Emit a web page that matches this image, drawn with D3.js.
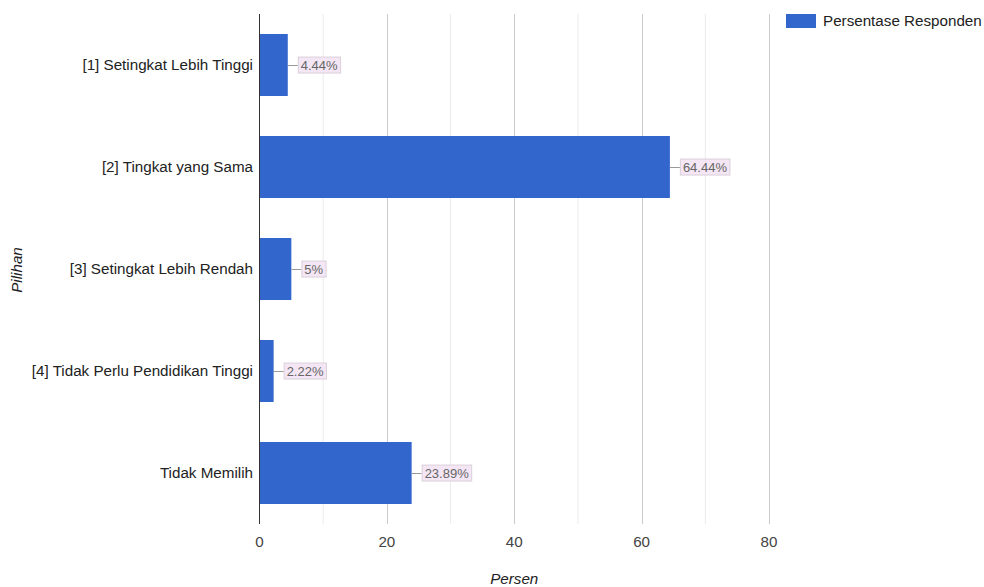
<!DOCTYPE html>
<html><head><meta charset="utf-8">
<script src="https://cdn.jsdelivr.net/npm/d3@7"></script>
<style>body{margin:0;background:#fff;} svg text{font-family:"Liberation Sans",Arial,sans-serif;}</style>
</head><body>
<svg id="c" width="984" height="587"></svg>
<script>
const categories = ["[1] Setingkat Lebih Tinggi","[2] Tingkat yang Sama","[3] Setingkat Lebih Rendah","[4] Tidak Perlu Pendidikan Tinggi","Tidak Memilih"];
const values = [4.44, 64.44, 5, 2.22, 23.89];
const labels = ["4.44%","64.44%","5%","2.22%","23.89%"];
const xTicks = [0,20,40,60,80];
const minorTicks = [10,30,50,70];
const seriesName = "Persentase Responden";

const svg = d3.select("#c");
const L = 259.5, R = 769, T = 14, B = 524;
const x = d3.scaleLinear().domain([0,80]).range([L,R]);
const y = d3.scaleBand().domain(categories).range([T,B]).paddingInner(0.392).paddingOuter(0.196);

svg.append("g").selectAll("line.minor").data(minorTicks).enter().append("line")
  .attr("x1",d=>x(d)).attr("x2",d=>x(d)).attr("y1",T).attr("y2",B)
  .attr("stroke","#ebebeb").attr("stroke-width",1);
svg.append("g").selectAll("line.major").data(xTicks.slice(1)).enter().append("line")
  .attr("x1",d=>Math.round(x(d))+0.5).attr("x2",d=>Math.round(x(d))+0.5).attr("y1",T).attr("y2",B)
  .attr("stroke","#cccccc").attr("stroke-width",1);

svg.append("g").selectAll("rect").data(values).enter().append("rect")
  .attr("x",x(0)).attr("y",(d,i)=>y(categories[i]))
  .attr("width",d=>x(d)-x(0)).attr("height",y.bandwidth())
  .attr("fill","#3366cc");

svg.append("line").attr("x1",L).attr("x2",L).attr("y1",T).attr("y2",B).attr("stroke","#333").attr("stroke-width",1);

svg.append("g").selectAll("text").data(categories).enter().append("text")
  .attr("x",253).attr("y",d=>y(d)+y.bandwidth()/2).attr("dy","0.35em")
  .attr("text-anchor","end").attr("font-size",15.2).attr("fill","#222").text(d=>d);

svg.append("g").selectAll("text").data(xTicks).enter().append("text")
  .attr("x",d=>x(d)).attr("y",547).attr("text-anchor","middle")
  .attr("font-size",15.2).attr("fill","#444").text(d=>d);

svg.append("text").attr("x",x(40)).attr("y",584).attr("text-anchor","middle")
  .attr("font-size",15.2).attr("font-style","italic").attr("fill","#222").text("Persen");
svg.append("text").attr("transform","translate(22,270) rotate(-90)").attr("text-anchor","middle")
  .attr("font-size",15.2).attr("font-style","italic").attr("fill","#222").text("Pilihan");

const ann = svg.append("g");
values.forEach((v,i)=>{
  const cy = y(categories[i]) + y.bandwidth()/2;
  const x0 = x(v);
  ann.append("line").attr("x1",x0).attr("x2",x0+10).attr("y1",cy+0.5).attr("y2",cy+0.5).attr("stroke","#999");
  const t = ann.append("text").attr("x",x0+13).attr("y",cy).attr("dy","0.35em")
    .attr("font-size",13).attr("fill","#666").text(labels[i]);
  const bb = t.node().getBBox();
  ann.insert("rect","text:last-child").attr("x",bb.x-2.5).attr("y",bb.y-0.5).attr("width",bb.width+5).attr("height",bb.height+1)
    .attr("fill","#f4e6f4").attr("stroke","#d9d0d9");
  t.raise();
});

svg.append("rect").attr("x",786).attr("y",14).attr("width",30).attr("height",14).attr("fill","#3366cc");
svg.append("text").attr("x",823).attr("y",21).attr("dy","0.35em").attr("font-size",15.2).attr("fill","#222").text(seriesName);
</script>
</body></html>
